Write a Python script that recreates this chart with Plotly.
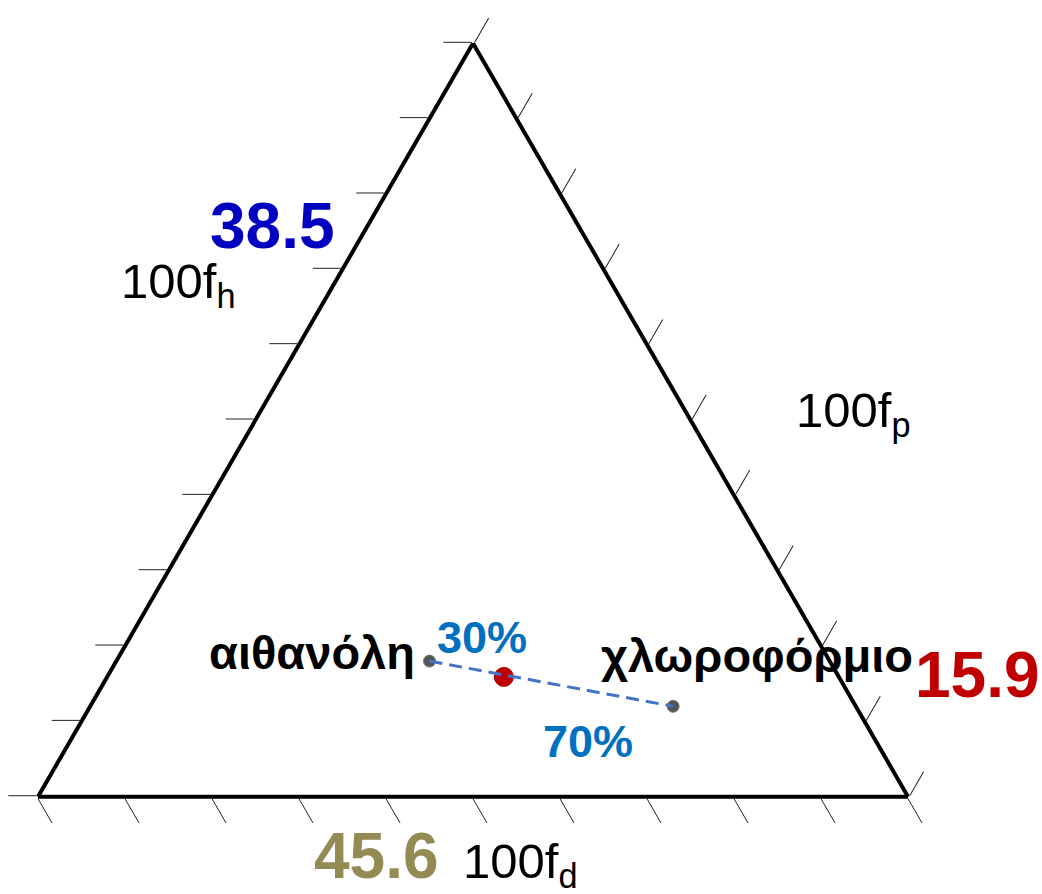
import plotly.graph_objects as go

# Teas fractional parameters (100·f) — a: f_p (top), b: f_h (left), c: f_d (right)
solvent_names = ["αιθανόλη", "χλωροφόρμιο"]
solvent_fp = [18, 12]
solvent_fh = [46, 21]
solvent_fd = [36, 67]

# blend point (30% / 70% split along the tie line)
mix_fd = 45.6
mix_fh = 38.5
mix_fp = 15.9
split_labels = ["30%", "70%"]

W, H = 1042, 894


def px(x, y):
    """pixel position -> paper fraction"""
    return x / W, 1 - y / H


fig = go.Figure()

# solvents
fig.add_trace(go.Scatterternary(
    a=solvent_fp, b=solvent_fh, c=solvent_fd,
    mode="markers",
    marker=dict(size=12, color="#555555", line=dict(width=1, color="#777777")),
    hoverinfo="skip", showlegend=False,
))

# blend
fig.add_trace(go.Scatterternary(
    a=[mix_fp], b=[mix_fh], c=[mix_fd],
    mode="markers",
    marker=dict(size=19, color="#C00000", line=dict(width=1, color="#A00000")),
    hoverinfo="skip", showlegend=False,
))

# tie line between the two solvents
fig.add_trace(go.Scatterternary(
    a=solvent_fp, b=solvent_fh, c=solvent_fd,
    mode="lines",
    line=dict(color="#4472C4", width=3, dash="13px,7px"),
    hoverinfo="skip", showlegend=False,
))

axis_style = dict(
    min=0, showgrid=False, showticklabels=False,
    ticks="outside", ticklen=28, tickwidth=1.2, tickcolor="#222222",
    tick0=0, dtick=10,
    showline=True, linewidth=4, linecolor="black",
    title=dict(text=""),
)

x0, y0 = px(38, 798)
x1, y1 = px(908, 42)

fig.update_layout(
    width=W, height=H,
    margin=dict(l=0, r=0, t=0, b=0),
    paper_bgcolor="white",
    font=dict(family="Liberation Sans, Arial, sans-serif", color="black"),
    ternary=dict(
        sum=100,
        bgcolor="white",
        domain=dict(x=[x0, x1], y=[y0, y1]),
        aaxis=axis_style, baxis=axis_style, caxis=axis_style,
    ),
)


def note(text, x, y, size, color="black", bold=False, xanchor="center"):
    xx, yy = px(x, y)
    fig.add_annotation(
        x=xx, y=yy, xref="paper", yref="paper",
        text=f"<b>{text}</b>" if bold else text,
        showarrow=False, xanchor=xanchor, yanchor="middle",
        font=dict(size=size, color=color,
                  family="Liberation Sans, Arial, sans-serif"),
    )


# axis captions
note("100f<sub>h</sub>", 178, 284, 49)
note("100f<sub>p</sub>", 853, 413, 49)
note("100f<sub>d</sub>", 520, 864, 49)

# values of the blend point
note(f"{mix_fh}", 272, 226, 64, "#0000C0", True)
note(f"{mix_fp}", 977, 675, 64, "#C00000", True)
note(f"{mix_fd}", 376, 856, 64, "#948A54", True)

# solvent names
note(solvent_names[0], 417, 652, 47, bold=True, xanchor="right")
note(solvent_names[1], 757, 655, 47, bold=True)

# split percentages
note(split_labels[0], 482, 637, 45, "#0070C0", True)
note(split_labels[1], 588, 741, 45, "#0070C0", True)

fig.write_html("out.html")
